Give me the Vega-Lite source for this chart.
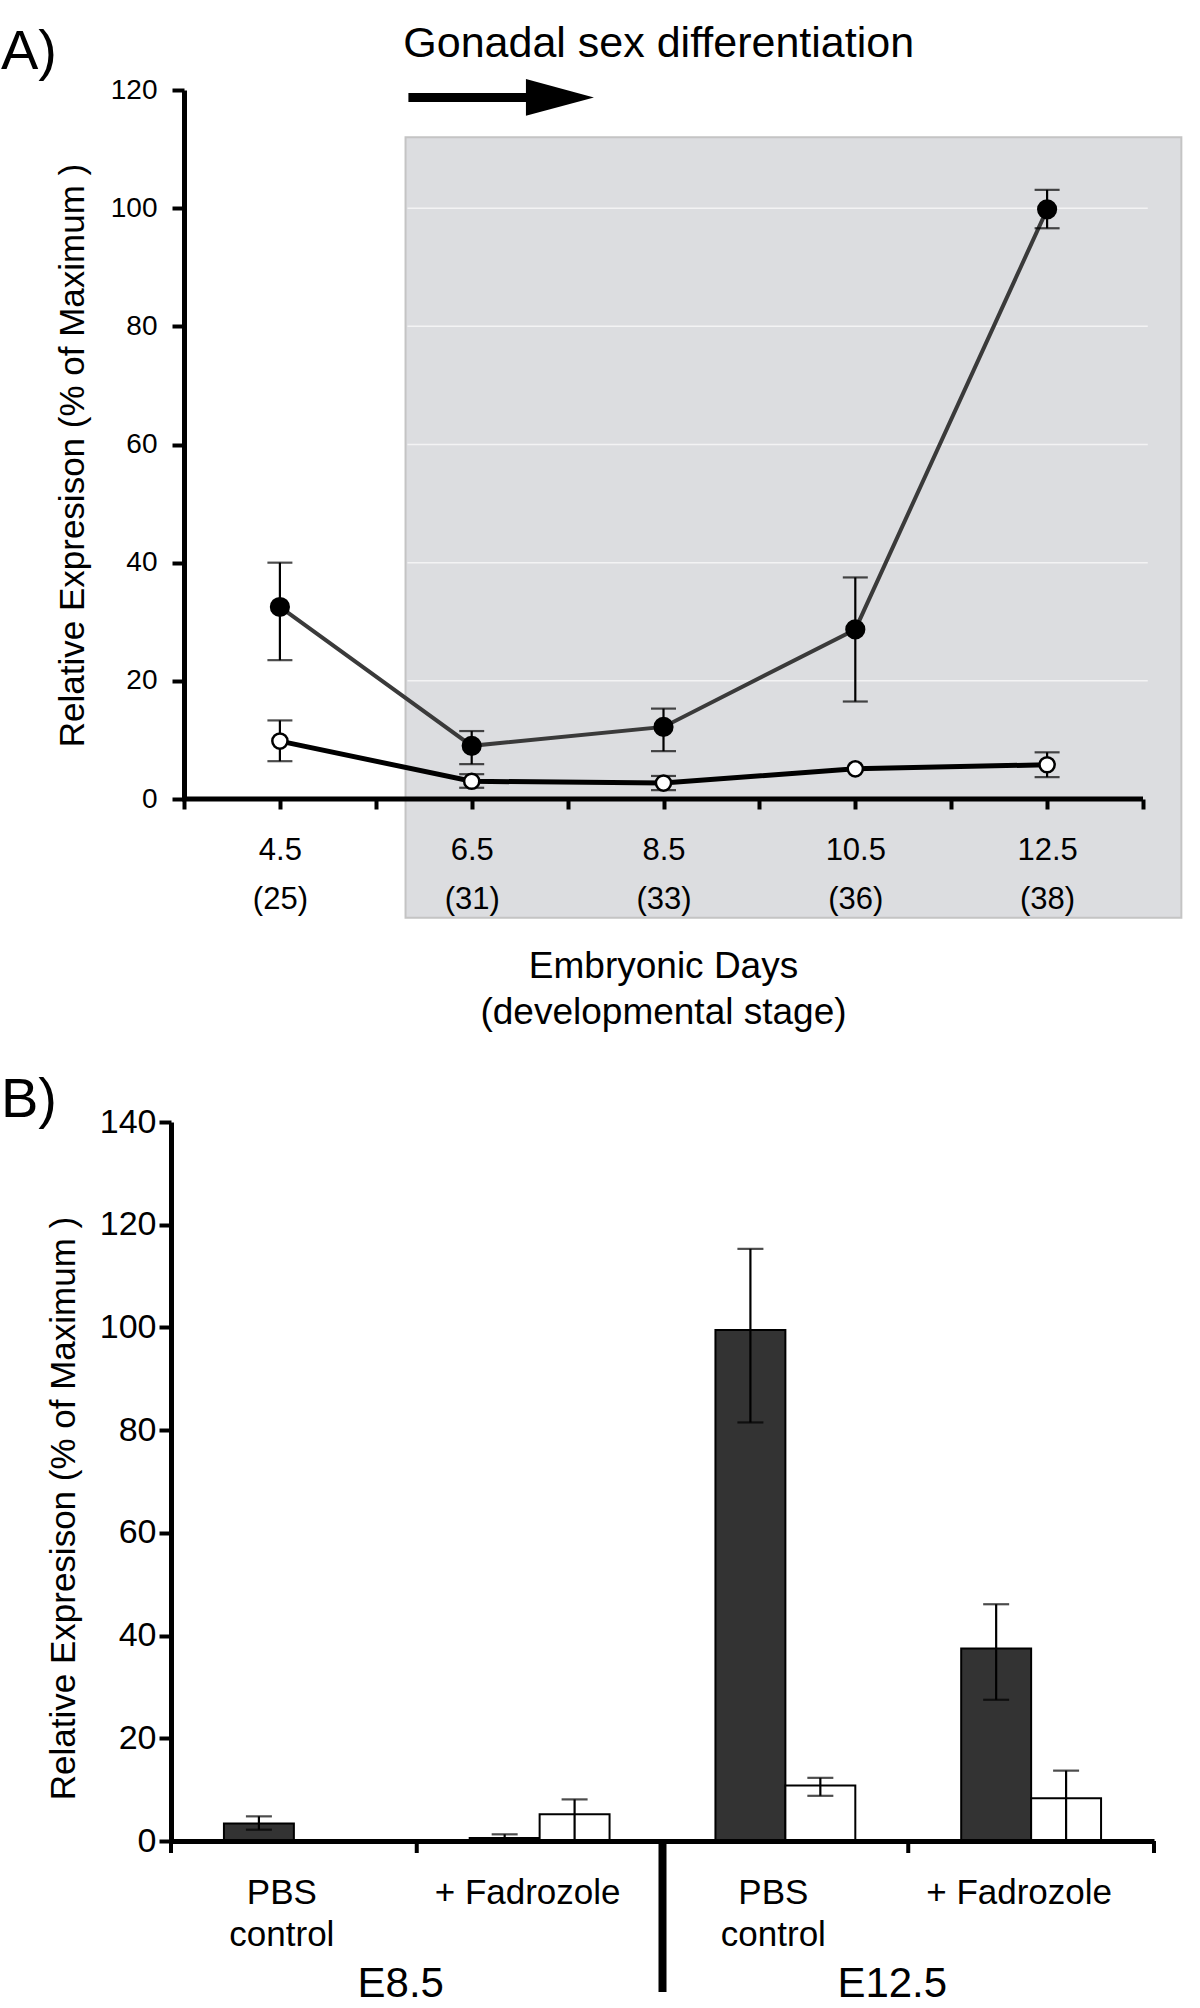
{
  "$schema": "https://vega.github.io/schema/vega-lite/v6.json",
  "padding": {"left": 0, "top": 22, "right": 0, "bottom": 0},
  "columns": 1,
  "align": "none",
  "spacing": 42,
  "config": {
    "view": {"stroke": null},
    "font": "Liberation Sans",
    "axis": {"labelFont": "Liberation Sans", "titleFont": "Liberation Sans", "labelColor": "#000", "titleColor": "#000", "domainColor": "#000", "tickColor": "#000", "grid": false, "titleFontWeight": "normal", "labelOverlap": false, "labelFlush": false, "labelLimit": 600},
    "title": {"font": "Liberation Sans", "fontWeight": "normal", "color": "#000"},
    "text": {"font": "Liberation Sans", "color": "#000"}
  },
  "datasets": {
    "seriesA": [
      {"series": "filled", "day": 4.5, "v": 32.5, "lo": 23.5, "hi": 40.0},
      {"series": "filled", "day": 6.5, "v": 9.0, "lo": 5.9, "hi": 11.5},
      {"series": "filled", "day": 8.5, "v": 12.2, "lo": 8.1, "hi": 15.3},
      {"series": "filled", "day": 10.5, "v": 28.7, "lo": 16.5, "hi": 37.5},
      {"series": "filled", "day": 12.5, "v": 99.8, "lo": 96.6, "hi": 103.1},
      {"series": "open", "day": 4.5, "v": 9.8, "lo": 6.4, "hi": 13.3},
      {"series": "open", "day": 6.5, "v": 3.0, "lo": 1.9, "hi": 4.2},
      {"series": "open", "day": 8.5, "v": 2.7, "lo": 1.5, "hi": 3.9},
      {"series": "open", "day": 10.5, "v": 5.1, "lo": null, "hi": null},
      {"series": "open", "day": 12.5, "v": 5.8, "lo": 3.7, "hi": 7.9}
    ],
    "barsB": [
      {"cond": "E8.5 PBS", "treat": "dark", "v": 3.4, "lo": 2.2, "hi": 4.8},
      {"cond": "E8.5 Fad", "treat": "dark", "v": 0.6, "lo": 0, "hi": 1.3},
      {"cond": "E8.5 Fad", "treat": "white", "v": 5.2, "lo": 0, "hi": 8.1},
      {"cond": "E12.5 PBS", "treat": "dark", "v": 99.5, "lo": 81.5, "hi": 115.3},
      {"cond": "E12.5 PBS", "treat": "white", "v": 10.8, "lo": 8.8, "hi": 12.3},
      {"cond": "E12.5 Fad", "treat": "dark", "v": 37.5, "lo": 27.5, "hi": 46.1},
      {"cond": "E12.5 Fad", "treat": "white", "v": 8.3, "lo": 0, "hi": 13.7}
    ]
  },
  "concat": [
    {
      "width": 972,
      "height": 709,
      "encoding": {
        "x": {
          "field": "day", "type": "quantitative",
          "scale": {"domain": [3.3644, 13.5], "nice": false, "zero": false},
          "axis": {
            "zindex": 1,
            "domain": false,
            "values": [3.5, 4.5, 5.5, 6.5, 7.5, 8.5, 9.5, 10.5, 11.5, 12.5, 13.5],
            "labelExpr": "datum.value==4.5?['4.5','(25)']:datum.value==6.5?['6.5','(31)']:datum.value==8.5?['8.5','(33)']:datum.value==10.5?['10.5','(36)']:datum.value==12.5?['12.5','(38)']:''",
            "title": ["Embryonic Days", "(developmental stage)"],
            "titleFontSize": 37, "titleLineHeight": 46, "titlePadding": 34, "titleX": 492,
            "labelFontSize": 31, "labelLineHeight": 49, "labelPadding": 26, "labelBaseline": "top",
            "tickSize": 10, "tickWidth": 4
          }
        },
        "y": {
          "field": "v", "type": "quantitative",
          "scale": {"domain": [0, 120], "nice": false},
          "axis": {
            "zindex": 1,
            "offset": -13,
            "values": [0, 20, 40, 60, 80, 100, 120],
            "title": "Relative Expresison (% of Maximum )",
            "titleFontSize": 35, "titlePadding": 20, "titleY": 365,
            "labelFontSize": 28, "labelPadding": 15,
            "tickSize": 12, "tickWidth": 4, "domainWidth": 5
          }
        }
      },
      "layer": [
        {
          "data": {"values": [{"day": 5.81, "day_end": 13.9, "v": -20.1, "v_end": 112}]},
          "mark": {"type": "rect", "fill": "#dcdde0", "stroke": "#c4c4c4", "strokeWidth": 2},
          "encoding": {"x2": {"field": "day_end"}, "y2": {"field": "v_end"}}
        },
        {
          "data": {"values": [
            {"day": 5.83, "day_end": 13.55, "v": 20},
            {"day": 5.83, "day_end": 13.55, "v": 40},
            {"day": 5.83, "day_end": 13.55, "v": 60},
            {"day": 5.83, "day_end": 13.55, "v": 80},
            {"day": 5.83, "day_end": 13.55, "v": 100}
          ]},
          "mark": {"type": "rule", "color": "#f3f3f4", "strokeWidth": 1.5},
          "encoding": {"x2": {"field": "day_end"}}
        },
        {
          "data": {"values": [{"day": 3.48, "day_end": 13.5, "v": 0}]},
          "mark": {"type": "rule", "color": "#000", "strokeWidth": 5},
          "encoding": {"x2": {"field": "day_end"}}
        },
        {
          "data": {"name": "seriesA"},
          "transform": [{"filter": "datum.series == 'open'"}],
          "mark": {"type": "line", "color": "#000", "strokeWidth": 5}
        },
        {
          "data": {"name": "seriesA"},
          "transform": [{"filter": "datum.series == 'filled'"}],
          "mark": {"type": "line", "color": "#3a3a3a", "strokeWidth": 4}
        },
        {
          "data": {"name": "seriesA"},
          "transform": [{"filter": "datum.lo != null"}],
          "mark": {"type": "rule", "color": "#000", "strokeWidth": 2.2},
          "encoding": {"y": {"field": "lo", "type": "quantitative"}, "y2": {"field": "hi"}}
        },
        {
          "data": {"name": "seriesA"},
          "transform": [{"filter": "datum.hi != null"}],
          "mark": {"type": "tick", "orient": "horizontal", "color": "#000", "size": 25, "thickness": 2.2},
          "encoding": {"y": {"field": "hi", "type": "quantitative"}}
        },
        {
          "data": {"name": "seriesA"},
          "transform": [{"filter": "datum.lo != null"}],
          "mark": {"type": "tick", "orient": "horizontal", "color": "#000", "size": 25, "thickness": 2.2},
          "encoding": {"y": {"field": "lo", "type": "quantitative"}}
        },
        {
          "data": {"name": "seriesA"},
          "transform": [{"filter": "datum.series == 'filled'"}],
          "mark": {"type": "point", "shape": "circle", "filled": true, "fill": "#000", "stroke": "#000", "strokeWidth": 2, "size": 330, "opacity": 1}
        },
        {
          "data": {"name": "seriesA"},
          "transform": [{"filter": "datum.series == 'open'"}],
          "mark": {"type": "point", "shape": "circle", "filled": true, "fill": "#fff", "stroke": "#000", "strokeWidth": 2.5, "size": 230, "opacity": 1}
        },
        {
          "data": {"values": [{"day": 5.84, "day_end": 7.15, "v": 118.75}]},
          "mark": {"type": "rule", "color": "#000", "strokeWidth": 9},
          "encoding": {"x2": {"field": "day_end"}}
        },
        {
          "data": {"values": [{"day": 7.42, "v": 118.75}]},
          "mark": {"type": "point", "shape": "M -1 -0.54 L 1 0 L -1 0.54 Z", "filled": true, "color": "#000", "size": 4624, "opacity": 1}
        },
        {
          "data": {"values": [{"day": 8.45, "v": 127.8, "label": "Gonadal sex differentiation"}]},
          "mark": {"type": "text", "fontSize": 43, "align": "center", "baseline": "middle"},
          "encoding": {"text": {"field": "label"}}
        },
        {
          "data": {"values": [{"day": 1.591, "v": 126.5, "label": "A)"}]},
          "mark": {"type": "text", "fontSize": 56, "align": "left", "baseline": "middle"},
          "encoding": {"text": {"field": "label"}}
        }
      ]
    },
    {
      "width": 983,
      "height": 719,
      "title": {"text": "B)", "anchor": "start", "frame": "group", "fontSize": 56, "dx": -170, "offset": -68, "baseline": "alphabetic"},
      "encoding": {
        "x": {
          "field": "cond", "type": "nominal",
          "scale": {"domain": ["E8.5 PBS", "E8.5 Fad", "E12.5 PBS", "E12.5 Fad"], "paddingInner": 0, "paddingOuter": 0},
          "axis": {
            "zindex": 1,
            "title": null, "ticks": false, "labelAngle": 0,
            "labelExpr": "indexof(datum.value,'PBS')>=0 ? ['PBS','control'] : '+ Fadrozole'",
            "labelFontSize": 35, "labelLineHeight": 42, "labelPadding": 34, "labelBaseline": "top",
            "labelOffset": -12,
            "domainWidth": 5
          }
        },
        "y": {
          "field": "v", "type": "quantitative",
          "scale": {"domain": [0, 140], "nice": false},
          "axis": {
            "zindex": 1,
            "values": [0, 20, 40, 60, 80, 100, 120, 140],
            "title": "Relative Expresison (% of Maximum )",
            "titleFontSize": 35, "titlePadding": 18, "titleY": 386,
            "labelFontSize": 34, "labelPadding": 3,
            "tickSize": 12, "tickWidth": 4, "domainWidth": 5
          }
        }
      },
      "layer": [
        {
          "data": {"name": "barsB"},
          "mark": {"type": "bar", "stroke": "#000", "strokeWidth": 2},
          "encoding": {
            "xOffset": {"field": "treat", "type": "nominal", "scale": {"domain": ["dark", "white"], "paddingOuter": 0.757, "paddingInner": 0}},
            "fill": {"field": "treat", "type": "nominal", "scale": {"domain": ["dark", "white"], "range": ["#333333", "#ffffff"]}, "legend": null}
          }
        },
        {
          "data": {"name": "barsB"},
          "mark": {"type": "rule", "color": "#000", "strokeWidth": 2.2},
          "encoding": {
            "xOffset": {"field": "treat", "type": "nominal"},
            "y": {"field": "lo", "type": "quantitative"}, "y2": {"field": "hi"}
          }
        },
        {
          "data": {"name": "barsB"},
          "mark": {"type": "tick", "orient": "horizontal", "color": "#000", "size": 26, "thickness": 2.2},
          "encoding": {
            "xOffset": {"field": "treat", "type": "nominal"},
            "y": {"field": "hi", "type": "quantitative"}
          }
        },
        {
          "data": {"name": "barsB"},
          "transform": [{"filter": "datum.lo > 0"}],
          "mark": {"type": "tick", "orient": "horizontal", "color": "#000", "size": 26, "thickness": 2.2},
          "encoding": {
            "xOffset": {"field": "treat", "type": "nominal"},
            "y": {"field": "lo", "type": "quantitative"}
          }
        },
        {
          "data": {"values": [
            {"cond": "E8.5 PBS", "v": 0, "v_end": -2.34},
            {"cond": "E8.5 Fad", "v": 0, "v_end": -2.34},
            {"cond": "E12.5 Fad", "v": 0, "v_end": -2.34}
          ]},
          "mark": {"type": "rule", "color": "#000", "strokeWidth": 4},
          "encoding": {
            "x": {"field": "cond", "type": "nominal", "bandPosition": 0},
            "y2": {"field": "v_end"}
          }
        },
        {
          "data": {"values": [{"cond": "E12.5 Fad", "v": 0, "v_end": -2.34}]},
          "mark": {"type": "rule", "color": "#000", "strokeWidth": 4},
          "encoding": {
            "x": {"field": "cond", "type": "nominal", "bandPosition": 1},
            "y2": {"field": "v_end"}
          }
        },
        {
          "data": {"values": [{"cond": "E12.5 PBS", "v": 0, "v_end": -29.4}]},
          "mark": {"type": "rule", "color": "#000", "strokeWidth": 8},
          "encoding": {
            "x": {"field": "cond", "type": "nominal", "bandPosition": 0},
            "y2": {"field": "v_end"}
          }
        },
        {
          "data": {"values": [{"cond": "E8.5 Fad", "v": -27.8, "label": "E8.5"}, {"cond": "E12.5 Fad", "v": -27.8, "label": "E12.5"}]},
          "mark": {"type": "text", "fontSize": 42, "align": "center", "baseline": "middle", "dx": -16},
          "encoding": {
            "x": {"field": "cond", "type": "nominal", "bandPosition": 0},
            "text": {"field": "label"}
          }
        }
      ]
    }
  ]
}
